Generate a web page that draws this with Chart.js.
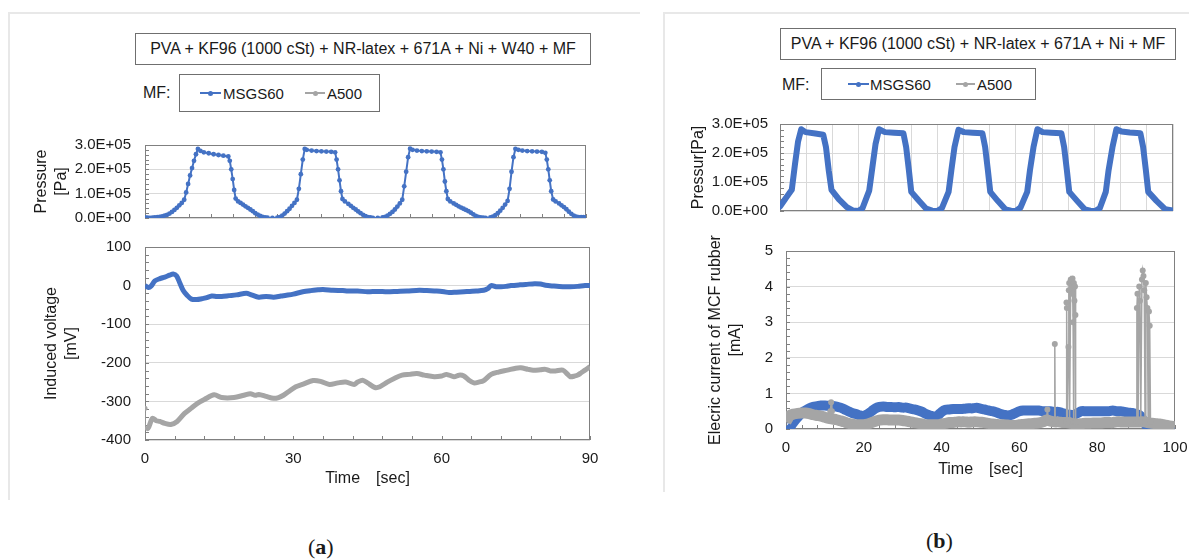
<!DOCTYPE html>
<html>
<head>
<meta charset="utf-8">
<script src="https://cdn.jsdelivr.net/npm/chart.js@4.4.0/dist/chart.umd.min.js"></script>
<style>
  body { margin: 0; width: 1189px; height: 559px; background: #fff; position: relative; overflow: hidden;
         font-family: "Liberation Sans", Arial, sans-serif; color: #1a1a1a; }
  .abs { position: absolute; }
  .frame { border-top: 2px solid #e8e8e8; border-left: 2px solid #e8e8e8; }
  .box { border: 1px solid #6f6f6f; box-sizing: border-box; font-size: 16px; white-space: nowrap;
         display: flex; align-items: center; justify-content: center; }
  .lg { border: 1px solid #6f6f6f; box-sizing: border-box; font-size: 15px; }
  .lg span { position: absolute; top: 50%; transform: translateY(-50%); white-space: nowrap; }
  .ln { position: absolute; top: 50%; height: 2px; margin-top: -1px; }
  .ln i { position: absolute; left: 50%; top: 50%; width: 5px; height: 5px; margin: -2.5px 0 0 -2.5px; border-radius: 50%; }
  .mf { font-size: 16px; }
  .cap { font-family: "Liberation Serif", serif; font-size: 22px; line-height: 25px; }
  canvas { position: absolute; }
</style>
</head>
<body>

<div class="abs frame" style="left:8px;top:12px;width:630px;height:486px"></div>
<div class="abs frame" style="left:663px;top:12px;width:526px;height:478px"></div>

<div class="abs box" style="left:135px;top:33px;width:456px;height:32px">PVA + KF96 (1000 cSt) + NR-latex + 671A + Ni + W40 + MF</div>
<div class="abs mf" style="left:143px;top:84px">MF:</div>
<div class="abs lg" style="left:179px;top:74px;width:201px;height:38px">
  <div class="ln" style="left:20px;width:21px;background:#4472c4"><i style="background:#4472c4"></i></div>
  <span style="left:43px">MSGS60</span>
  <div class="ln" style="left:125px;width:20px;background:#a5a5a5"><i style="background:#a5a5a5"></i></div>
  <span style="left:147px">A500</span>
</div>

<div class="abs box" style="left:780px;top:28px;width:396px;height:32px">PVA + KF96 (1000 cSt) + NR-latex + 671A + Ni + MF</div>
<div class="abs mf" style="left:782px;top:76px">MF:</div>
<div class="abs lg" style="left:821px;top:68px;width:215px;height:32px">
  <div class="ln" style="left:26px;width:21px;background:#4472c4"><i style="background:#4472c4"></i></div>
  <span style="left:48px">MSGS60</span>
  <div class="ln" style="left:134px;width:19px;background:#a5a5a5"><i style="background:#a5a5a5"></i></div>
  <span style="left:155px">A500</span>
</div>

<div class="abs cap" style="left:308px;top:534px">(<b>a</b>)</div>
<div class="abs cap" style="left:926px;top:528px">(<b>b</b>)</div>

<canvas id="pressA" width="570" height="90" style="left:30px;top:138px"></canvas>
<canvas id="voltA" width="580" height="252" style="left:30px;top:240px"></canvas>
<canvas id="pressB" width="505" height="100" style="left:680px;top:117px"></canvas>
<canvas id="currB" width="508" height="255" style="left:680px;top:228px"></canvas>

<script>
// ---- (a) pressure, MSGS60 [Pa]
const pressA_t = [0,0.5,1,1.5,2,2.5,3,3.5,4,4.5,5,5.5,6,6.5,7,7.5,8,8.4,8.8,9.2,9.6,10,10.4,10.8,11.3,12,13,14,15,16,17,
  17.3,17.6,17.9,18.2,18.5,19,19.5,20,20.5,21,21.5,22,22.5,23,23.5,24,24.5,25,26,27,27.5,28,28.5,29,29.5,30,30.5,31,
  31.4,31.8,32.2,32.6,33,34,35,36,37,38,38.8,39.1,39.4,39.7,40,40.3,40.8,41.5,42,42.5,43,43.5,44,44.5,45,45.5,46,46.5,
  47.5,48.5,49,49.5,50,50.5,51,51.5,52,52.5,52.9,53.3,53.7,54.1,54.6,55.5,56.5,57.5,58.5,59.5,60.3,60.6,60.9,61.2,61.5,
  61.8,62.3,63,63.5,64,64.5,65,65.5,66,66.5,67,67.5,68,68.5,69,69.5,70.5,71,71.5,72,72.5,73,73.5,74,74.4,74.8,75.2,75.6,
  76.2,77,78,79,80,81,81.7,82,82.3,82.6,82.9,83.3,83.8,84.5,85,85.5,86,86.5,87,87.5,88,88.5,89,89.5,90];
const pressA_p = [0.02e5,0.01e5,0,0.01e5,0.02e5,0.03e5,0.05e5,0.07e5,0.1e5,0.13e5,0.18e5,0.25e5,0.33e5,0.42e5,0.52e5,0.62e5,0.75e5,
  1.05e5,1.4e5,1.75e5,2.05e5,2.35e5,2.62e5,2.84e5,2.76e5,2.7e5,2.66e5,2.62e5,2.59e5,2.56e5,2.53e5,
  2.35e5,2.0e5,1.6e5,1.15e5,0.8e5,0.68e5,0.62e5,0.55e5,0.48e5,0.42e5,0.35e5,0.28e5,0.2e5,0.14e5,0.09e5,0.05e5,0.02e5,0.01e5,0,
  0.01e5,0.04e5,0.1e5,0.18e5,0.28e5,0.38e5,0.5e5,0.62e5,0.75e5,
  1.2e5,1.8e5,2.4e5,2.84e5,2.8e5,2.77e5,2.75e5,2.74e5,2.73e5,2.72e5,2.7e5,2.4e5,2.0e5,1.55e5,1.1e5,0.78e5,0.68e5,0.58e5,0.5e5,
  0.42e5,0.35e5,0.27e5,0.2e5,0.13e5,0.08e5,0.04e5,0.02e5,0,
  0,0.02e5,0.05e5,0.1e5,0.17e5,0.25e5,0.35e5,0.47e5,0.6e5,0.75e5,1.3e5,1.9e5,2.5e5,2.85e5,2.8e5,2.77e5,2.75e5,2.74e5,2.73e5,
  2.72e5,2.7e5,2.4e5,2.0e5,1.5e5,1.1e5,
  0.78e5,0.68e5,0.6e5,0.54e5,0.48e5,0.43e5,0.38e5,0.33e5,0.28e5,0.22e5,0.15e5,0.09e5,0.05e5,0.02e5,0.01e5,0,0.02e5,0.06e5,
  0.12e5,0.2e5,0.3e5,0.42e5,0.55e5,0.7e5,1.2e5,1.9e5,2.5e5,2.84e5,
  2.8e5,2.77e5,2.75e5,2.74e5,2.73e5,2.72e5,2.68e5,2.4e5,2.0e5,1.55e5,1.1e5,0.76e5,0.68e5,0.6e5,0.52e5,0.45e5,0.36e5,0.26e5,
  0.17e5,0.1e5,0.06e5,0.04e5,0.03e5,0.03e5,0.02e5];

// ---- (a) induced voltage [mV]
const voltA_msgs_t = [0,0.7,1.2,2,3,4,5,5.7,6.4,7,7.7,8.5,9.4,10.5,11.5,12.3,13.5,14.5,15.5,17,18.5,20.5,21.5,23,24.5,26,27.5,
  28.6,30,31.9,33.5,35,36,38,40,41,43,45,47,49,51,53,55.5,57,59,60.5,61.5,63,64.5,65.7,67,68.5,69.3,70,71,72,73,74,75.8,
  77,78.8,80,81,82.5,84.5,86,87.5,89,90];
const voltA_msgs_v = [0,-5,-2,12,18,22,27,30,25,8,-12,-25,-35,-36,-34,-32,-27,-28,-28,-26,-24,-20,-24,-30,-28,-30,-27,
  -25,-22,-16,-13,-11,-10,-12,-13,-14,-14,-16,-15,-16,-15,-14,-12,-13,-14,-16,-18,-17,-16,-15,-14,-12,-8,0,-3,-3,-2,0,2,
  3,5,4,1,-1,-3,-3,-2,0,0];
const voltA_a500_t = [0,0.05,0.6,1.5,2.3,3,4,5.2,6.5,8,9.3,10.6,12,14,15.5,18,20,21.3,22.3,23,24.5,26,27,28,29,30.5,32,34,
  35.5,37.3,39,40.6,42.3,43,44,45,46.5,47.5,49,50.5,52,53.5,55,56.5,58.5,60,61,62.5,63.5,64.5,65.5,66.5,67.5,68.5,70,
  71.5,73.3,75,76,77.5,78.5,80,81,82,83,84.5,85.5,86,87,87.5,88.3,89,90];
const voltA_a500_v = [-318,-365,-370,-344,-350,-352,-357,-360,-352,-331,-318,-305,-295,-283,-290,-290,-284,-280,-284,-282,
  -287,-292,-290,-284,-275,-262,-255,-246,-248,-256,-252,-250,-256,-250,-245,-252,-264,-262,-250,-240,-232,-230,-228,
  -232,-236,-234,-230,-236,-232,-234,-245,-252,-250,-246,-230,-224,-219,-214,-213,-217,-219,-218,-217,-221,-221,-219,
  -230,-236,-234,-232,-225,-219,-210];

// ---- (b) pressure, MSGS60 [Pa]
const pressB_t = [0,1.5,3,3.8,4.6,5.4,6.5,9,11,11.7,12.4,13.1,15,17,18.5,20,21,22.7,23.5,24.3,25.2,26.7,29,31.4,32.1,32.8,
  33.4,35.3,37.2,38.7,40,41.2,42.9,43.6,44.4,45.4,46.8,49,51.5,52.2,52.9,53.5,55.4,57.4,58.8,60,61.2,62.9,63.6,64.5,65.5,
  66.8,69,71.6,72.3,73,73.6,75.6,77.6,79,80.2,81.4,82.9,83.6,84.6,85.6,86.9,89,91.7,92.4,93.1,93.7,95.8,98,100];
const pressB_p = [0.15e5,0.45e5,0.73e5,1.6e5,2.4e5,2.82e5,2.72e5,2.67e5,2.63e5,2.2e5,1.4e5,0.73e5,0.4e5,0.13e5,0.02e5,0,
  0.1e5,0.7e5,1.5e5,2.3e5,2.82e5,2.72e5,2.7e5,2.68e5,2.2e5,1.4e5,0.66e5,0.36e5,0.08e5,0.01e5,0,0.1e5,0.66e5,1.4e5,2.2e5,
  2.8e5,2.72e5,2.7e5,2.68e5,2.2e5,1.4e5,0.66e5,0.35e5,0.05e5,0.01e5,0,0.12e5,0.66e5,1.4e5,2.2e5,2.82e5,2.72e5,2.7e5,2.68e5,
  2.2e5,1.4e5,0.66e5,0.35e5,0.05e5,0.01e5,0,0.1e5,0.66e5,1.4e5,2.2e5,2.82e5,2.74e5,2.71e5,2.68e5,2.2e5,1.4e5,0.66e5,0.35e5,
  0.06e5,0.02e5];

// ---- (b) electric current [mA]
const currB_t = [0,0.5,1,2,3,4,5,6,7,8,9,10,11,12,13,14,15,16,17,18,19,20,21,22,23,24,25,26,27,28,29,30,31,32,33,34,35,36,
  37,38,39,40,41,42,43,44,45,46,47,48,49,50,51,52,53,54,55,56,57,58,59,60,61,62,63,64,65,66,67,68,69,70,71,72,73,74,75,
  76,77,78,79,80,81,82,83,84,85,86,87,88,89,90,91,92,93,94,95,96,97,98,99,100];
const currB_msgs = [0.08,0.02,0.05,0.2,0.33,0.45,0.52,0.58,0.62,0.64,0.66,0.66,0.65,0.65,0.63,0.6,0.55,0.5,0.45,0.42,0.38,
  0.37,0.42,0.5,0.58,0.62,0.63,0.62,0.62,0.61,0.62,0.6,0.6,0.57,0.55,0.52,0.48,0.42,0.38,0.35,0.38,0.48,0.54,0.55,0.56,
  0.56,0.56,0.57,0.58,0.58,0.6,0.57,0.55,0.52,0.5,0.47,0.43,0.4,0.38,0.4,0.45,0.5,0.52,0.52,0.52,0.52,0.52,0.5,0.5,0.5,
  0.48,0.48,0.45,0.42,0.4,0.4,0.45,0.5,0.5,0.5,0.5,0.5,0.5,0.5,0.5,0.52,0.5,0.5,0.48,0.46,0.45,0.42,0.38,0.2,0.05,0,0,0,
  0,0,0.05,0.05];
const currB_a500 = [0.2,0.3,0.38,0.42,0.44,0.45,0.45,0.43,0.4,0.38,0.36,0.33,0.3,0.28,0.26,0.23,0.2,0.16,0.14,0.12,0.12,
  0.12,0.14,0.18,0.22,0.25,0.26,0.26,0.25,0.25,0.25,0.24,0.22,0.2,0.18,0.16,0.14,0.12,0.12,0.12,0.12,0.14,0.16,0.18,0.18,
  0.2,0.2,0.2,0.19,0.2,0.2,0.19,0.18,0.16,0.14,0.13,0.12,0.12,0.11,0.1,0.1,0.12,0.13,0.14,0.15,0.16,0.17,0.2,0.25,0.22,
  0.2,0.2,0.18,0.18,0.16,0.15,0.14,0.15,0.16,0.16,0.17,0.17,0.17,0.18,0.18,0.18,0.2,0.2,0.2,0.2,0.2,0.2,0.2,0.2,0.18,0.16,
  0.15,0.14,0.12,0.1,0.08,0.06];
// A500 spikes (thin line with markers), null = break
const spikeB_t = [11.4,11.6,11.8,11.9,67,67.2,67.4,67.5,68.9,69.1,69.2,69.3,72,72.1,72.2,72.3,72.6,72.7,72.8,72.9,73.2,73.35,
  73.5,73.65,73.8,73.9,74,74.15,74.3,74.4,74.5,74.6,90,90.2,90.35,90.5,90.8,91,91.2,91.5,91.7,91.9,92.1,92.3,92.5,92.7,
  92.9,93.1,93.3,93.5,93.7];
const spikeB_v = [0.5,0.75,0.5,null,0.3,0.55,0.3,null,0.22,2.39,0.22,null,0.2,3.55,3.4,0.2,2.3,3.9,4.1,0.25,4.2,4.15,3.8,4.23,
  3.0,0.2,4.1,3.6,4.0,3.2,0.2,null,0.2,3.4,3.8,0.2,4.0,3.6,0.2,4.2,4.45,4.3,3.9,0.2,4.1,3.7,3.4,0.2,3.3,2.9,0.2];

const BLUE = '#4472c4';
const GREY = '#a5a5a5';
const GRID = '#d9d9d9';

Chart.defaults.font.family = '"Liberation Sans", Arial, sans-serif';
Chart.defaults.color = '#1a1a1a';
Chart.defaults.animation = false;

const pts = (t, v) => t.map((x, i) => ({x: x, y: v[i]}));

function fmtE(v) {
    if (v === 0) return '0.0E+00';
    const e = Math.floor(Math.log10(Math.abs(v)) + 1e-9);
    return (v / Math.pow(10, e)).toFixed(1) + 'E+' + String(e).padStart(2, '0');
}

// plot frame + inner minor ticks
const frameTicks = {
    id: 'frameTicks',
    beforeDatasetsDraw(chart, args, opts) {
        const {ctx, chartArea: a} = chart;
        const x = chart.scales.x, y = chart.scales.y;
        ctx.save();
        ctx.strokeStyle = '#808080';
        ctx.lineWidth = 1;
        ctx.strokeRect(a.left + 0.5, a.top + 0.5, a.width - 1, a.height - 1);
        ctx.beginPath();
        if (opts.xStep) {
            for (let v = x.min; v <= x.max + 1e-9; v += opts.xStep) {
                const px = Math.round(x.getPixelForValue(v)) + 0.5;
                ctx.moveTo(px, a.bottom); ctx.lineTo(px, a.bottom - 4);
            }
        }
        if (opts.yStep) {
            for (let v = y.min; v <= y.max + 1e-9; v += opts.yStep) {
                const py = Math.round(y.getPixelForValue(v)) + 0.5;
                ctx.moveTo(a.left, py); ctx.lineTo(a.left + 4, py);
            }
        }
        ctx.stroke();
        ctx.restore();
    }
};

function xAxis(min, max, step, h, showLabels, opt) {
    return Object.assign({
        type: 'linear', min: min, max: max,
        afterFit: s => { s.height = h; s.paddingLeft = 0; s.paddingRight = 0; },
        border: {display: false},
        grid: {display: false, drawTicks: false},
        ticks: {display: showLabels, stepSize: step, padding: 10, maxRotation: 0, font: {size: 15}},
        title: {display: showLabels, text: 'Time\u3000[sec]', font: {size: 16}, padding: {top: 0}}
    }, opt || {});
}

function yAxis(min, max, step, w, pad, title, cb, titlePad) {
    return {
        min: min, max: max,
        afterFit: s => { s.width = w; s.paddingTop = 0; s.paddingBottom = 0; },
        border: {display: false},
        grid: {color: GRID, drawTicks: false},
        ticks: {stepSize: step, padding: pad, font: {size: 15}, callback: cb},
        title: {display: true, text: title, font: {size: 16, lineHeight: 1.25}, padding: titlePad}
    };
}

function baseOpts(scales, pad, minor) {
    return {
        responsive: false,
        devicePixelRatio: 1,
        layout: {padding: pad},
        plugins: {legend: {display: false}, tooltip: {enabled: false}, frameTicks: minor},
        scales: scales
    };
}

// (a) pressure
new Chart(document.querySelector('#pressA'), {
    type: 'line',
    data: {datasets: [{
        data: pts(pressA_t, pressA_p),
        borderColor: BLUE, backgroundColor: BLUE, borderWidth: 2,
        pointRadius: 2.4, pointBorderWidth: 0, tension: 0
    }]},
    options: baseOpts({
        x: xAxis(0, 90, 4.5, 10, false),
        y: yAxis(0, 3e5, 1e5, 115, 14, ['Pressure', '[Pa]'], v => fmtE(v), {top: 2})
    }, {left: 0, top: 7, right: 14, bottom: 0}, {xStep: 4.5, yStep: 0.2e5}),
    plugins: [frameTicks]
});

// (a) induced voltage
new Chart(document.querySelector('#voltA'), {
    type: 'line',
    data: {datasets: [{
        data: pts(voltA_msgs_t, voltA_msgs_v),
        borderColor: BLUE, borderWidth: 5, pointRadius: 0, tension: 0.3
    }, {
        data: pts(voltA_a500_t, voltA_a500_v),
        borderColor: GREY, backgroundColor: GREY, borderWidth: 5, tension: 0.3,
        pointRadius: ctx => ctx.dataIndex === 0 ? 2.5 : 0, pointBorderWidth: 0,
        segment: {borderWidth: ctx => ctx.p0DataIndex === 0 ? 1 : 5}
    }]},
    options: baseOpts({
        x: xAxis(0, 90, 30, 52, true),
        y: yAxis(-400, 100, 100, 115, 14, ['Induced voltage', '[mV]'], v => v, {top: 12})
    }, {left: 0, top: 7, right: 20, bottom: 0}, {xStep: 6, yStep: 20}),
    plugins: [frameTicks]
});

// (b) pressure
new Chart(document.querySelector('#pressB'), {
    type: 'line',
    data: {datasets: [{
        data: pts(pressB_t, pressB_p),
        borderColor: BLUE, borderWidth: 6, pointRadius: 0, tension: 0,
        borderJoinStyle: 'round', borderCapStyle: 'round'
    }]},
    options: baseOpts({
        x: xAxis(0, 100, 100 / 15, 6, false, {grid: {display: true, color: GRID, drawTicks: false}}),
        y: yAxis(0, 3e5, 1e5, 100, 12, 'Pressur[Pa]', v => fmtE(v), {top: 9})
    }, {left: 0, top: 7, right: 12, bottom: 0}, {yStep: 0.2e5}),
    plugins: [frameTicks]
});

// (b) electric current
new Chart(document.querySelector('#currB'), {
    type: 'line',
    data: {datasets: [{
        data: pts(currB_t, currB_a500),
        borderColor: GREY, borderWidth: 11, pointRadius: 0, tension: 0.3, order: 1
    }, {
        data: pts(spikeB_t, spikeB_v),
        borderColor: GREY, backgroundColor: GREY, borderWidth: 1.5, pointRadius: 3, pointBorderWidth: 0,
        tension: 0, spanGaps: false, order: 0
    }, {
        data: pts(currB_t, currB_msgs),
        borderColor: BLUE, borderWidth: 10, pointRadius: 0, tension: 0.3, order: 2
    }]},
    options: baseOpts({
        x: xAxis(0, 100, 20, 54, true),
        y: yAxis(0, 5, 1, 106, 13, ['Elecric current of MCF rubber', '[mA]'], v => v, {top: 26})
    }, {left: 0, top: 23, right: 13, bottom: 0}, {xStep: 4, yStep: 0.2}),
    plugins: [frameTicks]
});
</script>
</body>
</html>
